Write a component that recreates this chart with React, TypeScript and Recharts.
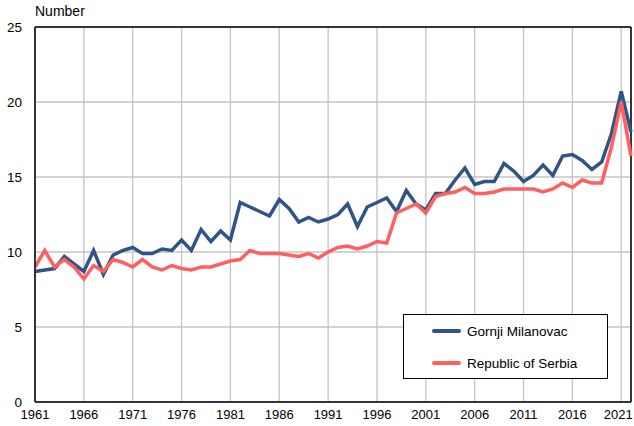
import {
  LineChart,
  Line,
  XAxis,
  YAxis,
  CartesianGrid,
  ReferenceLine,
} from "recharts";

const BLUE = "#2f5487";
const RED = "#ff5f5f";
const FONT = "'Liberation Sans', Arial, sans-serif";

const years = Array.from({ length: 62 }, (_, i) => 1961 + i);

// Gornji Milanovac, 1961–2022
const gornjiMilanovac = [
  8.7, 8.8, 8.9, 9.7, 9.2, 8.7, 10.1, 8.5, 9.8, 10.1,
  10.3, 9.9, 9.9, 10.2, 10.1, 10.8, 10.1, 11.5, 10.7, 11.4,
  10.8, 13.3, 13.0, 12.7, 12.4, 13.5, 12.9, 12.0, 12.3, 12.0,
  12.2, 12.5, 13.2, 11.7, 13.0, 13.3, 13.6, 12.7, 14.1, 13.2,
  12.8, 13.9, 13.9, 14.8, 15.6, 14.5, 14.7, 14.7, 15.9, 15.4,
  14.7, 15.1, 15.8, 15.1, 16.4, 16.5, 16.1, 15.5, 16.0, 17.9,
  20.7, 18.0,
];

// Republic of Serbia, 1961–2022
const serbia = [
  9.0, 10.1, 9.0, 9.5, 9.0, 8.2, 9.1, 8.7, 9.5, 9.3,
  9.0, 9.5, 9.0, 8.8, 9.1, 8.9, 8.8, 9.0, 9.0, 9.2,
  9.4, 9.5, 10.1, 9.9, 9.9, 9.9, 9.8, 9.7, 9.9, 9.6,
  10.0, 10.3, 10.4, 10.2, 10.4, 10.7, 10.6, 12.6, 12.9, 13.2,
  12.6, 13.7, 13.9, 14.0, 14.3, 13.9, 13.9, 14.0, 14.2, 14.2,
  14.2, 14.2, 14.0, 14.2, 14.6, 14.3, 14.8, 14.6, 14.6, 17.0,
  20.0, 16.4,
];

const xTicks = [1961, 1966, 1971, 1976, 1981, 1986, 1991, 1996, 2001, 2006, 2011, 2016, 2021];
const yTicks = [0, 5, 10, 15, 20, 25];

const data = years.map((year, i) => ({
  year,
  gm: gornjiMilanovac[i],
  rs: serbia[i],
}));

const legendItems = [
  { label: "Gornji Milanovac", color: BLUE },
  { label: "Republic of Serbia", color: RED },
];

// last label sits against the right edge, so pull it in a little
function YearTick(props: any) {
  const { x, y, payload } = props;
  const last = payload.value === xTicks[xTicks.length - 1];
  return (
    <text
      x={last ? x - 3 : x}
      y={y}
      dy="0.71em"
      textAnchor="middle"
      fontSize={13}
      fontFamily={FONT}
      fill="#000"
    >
      {payload.value}
    </text>
  );
}

function LegendBox() {
  return (
    <div
      style={{
        position: "absolute",
        left: 403,
        top: 314,
        width: 205,
        height: 65,
        border: "1px solid #000",
        background: "#fff",
        fontFamily: FONT,
        fontSize: 13.5,
        color: "#000",
        boxSizing: "border-box",
        paddingTop: 4,
      }}
    >
      {legendItems.map((it) => (
        <div key={it.label} style={{ display: "flex", alignItems: "center", height: 24, marginBottom: 8 }}>
          <span
            style={{
              display: "inline-block",
              width: 29,
              height: 4,
              borderRadius: 2,
              background: it.color,
              marginLeft: 28,
              marginRight: 6,
            }}
          />
          {it.label}
        </div>
      ))}
    </div>
  );
}

export default function App() {
  return (
    <div style={{ position: "absolute", left: 0, top: 0, width: 634, height: 426, background: "#fff" }}>
      <div
        style={{
          position: "absolute",
          left: 35,
          top: 3,
          fontFamily: FONT,
          fontSize: 14,
          color: "#000",
          lineHeight: "16px",
        }}
      >
        Number
      </div>
      <LineChart
        width={634}
        height={426}
        data={data}
        margin={{ top: 27, right: 3, bottom: 0, left: 0 }}
      >
        <CartesianGrid stroke="#c4c4c4" strokeWidth={1.3} />
        <XAxis
          dataKey="year"
          type="number"
          domain={[1961, 2022]}
          ticks={xTicks}
          interval={0}
          height={24}
          tickLine={false}
          axisLine={{ stroke: "#000", strokeWidth: 1.5 }}
          tick={<YearTick />}
        />
        <YAxis
          type="number"
          domain={[0, 25]}
          ticks={yTicks}
          width={35}
          tickLine={false}
          tickMargin={7}
          axisLine={{ stroke: "#333", strokeWidth: 2 }}
          tick={{ fontSize: 13.5, fill: "#000", fontFamily: FONT }}
        />
        <ReferenceLine y={25} stroke="#000" strokeWidth={1.5} />
        <ReferenceLine x={2022} stroke="#000" strokeWidth={1.5} />
        <Line
          dataKey="gm"
          name="Gornji Milanovac"
          stroke={BLUE}
          strokeWidth={3.5}
          dot={false}
          isAnimationActive={false}
        />
        <Line
          dataKey="rs"
          name="Republic of Serbia"
          stroke={RED}
          strokeWidth={3.5}
          dot={false}
          isAnimationActive={false}
        />
      </LineChart>
      <LegendBox />
    </div>
  );
}
